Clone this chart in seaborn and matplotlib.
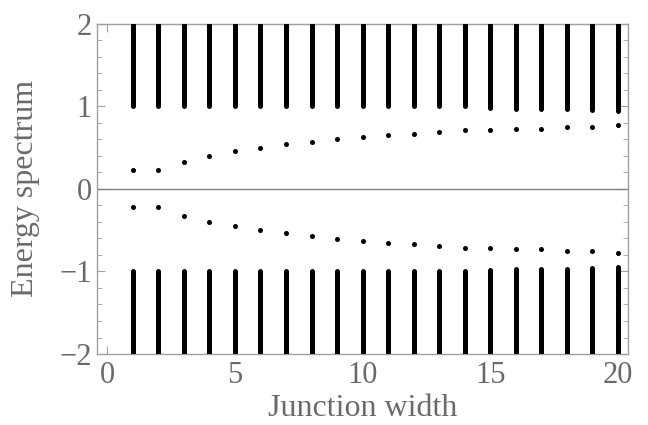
import matplotlib
matplotlib.use("Agg")
import matplotlib.pyplot as plt
import pandas as pd
import seaborn as sns
from matplotlib.ticker import MultipleLocator

# junction widths and the lowest positive subgap level for each
widths = list(range(1, 21))
subgap = [0.225, 0.225, 0.33, 0.395, 0.455, 0.50, 0.54, 0.565, 0.605, 0.625,
          0.65, 0.67, 0.69, 0.71, 0.71, 0.73, 0.73, 0.755, 0.755, 0.78]
# where the continuum starts (|E|) for each width
band_edge = [1.0, 1.0, 1.0, 1.0, 1.0, 1.0, 1.0, 1.0, 1.0, 1.0,
             1.0, 1.0, 1.0, 1.0, 0.98, 0.965, 0.965, 0.965, 0.96, 0.945]
band_top = 2.0

sns.set_style("ticks")
plt.rcParams["font.family"] = ["Liberation Serif", "DejaVu Serif"]

spine_col = "#a0a0a0"
text_col = "#6a6a6a"

fig = plt.figure(figsize=(6.48, 4.25), dpi=100)
ax = fig.add_axes([0.150, 0.167, 0.819, 0.777])

df = pd.DataFrame({
    "width": widths * 2,
    "energy": subgap + [-v for v in subgap],
})

# continuum columns, drawn as thick rounded bars of dense levels
ax.vlines(widths, band_edge, band_top + 0.1, colors="black", linewidth=3.6,
          capstyle="round", zorder=3)
ax.vlines(widths, [-v for v in band_edge], -band_top - 0.1, colors="black",
          linewidth=3.6, capstyle="round", zorder=3)

sns.scatterplot(data=df, x="width", y="energy", color="black", s=13,
                linewidth=0, ax=ax, zorder=4)

ax.axhline(0, color="#808080", linewidth=1.0, zorder=2)

ax.set_xlim(-0.4, 20.4)
ax.set_ylim(-2, 2)
ax.xaxis.set_minor_locator(MultipleLocator(1))
ax.yaxis.set_minor_locator(MultipleLocator(0.2))
ax.set_xticks([0, 5, 10, 15, 20])
ax.set_xticklabels(["0", "5", "10", "15", "20"])
ax.set_yticks([-2, -1, 0, 1, 2])
ax.set_yticklabels(["\u22122", "\u22121", "0", "1", "2"])

for s in ax.spines.values():
    s.set_visible(True)
    s.set_color(spine_col)
    s.set_linewidth(1.0)

ax.tick_params(which="both", direction="in", top=True, right=True,
               color=spine_col, labelcolor=text_col, labelsize=22)
ax.tick_params(axis="y", which="major", pad=4)
ax.tick_params(axis="x", which="major", pad=5)
ax.tick_params(which="major", length=6, width=0.8)
ax.tick_params(which="minor", length=3.5, width=0.6)

ax.set_xlabel("Junction width", color=text_col, fontsize=23, labelpad=3)
ax.set_ylabel("Energy spectrum", color=text_col, fontsize=23, labelpad=14)

fig.savefig("out.png", dpi=100)
